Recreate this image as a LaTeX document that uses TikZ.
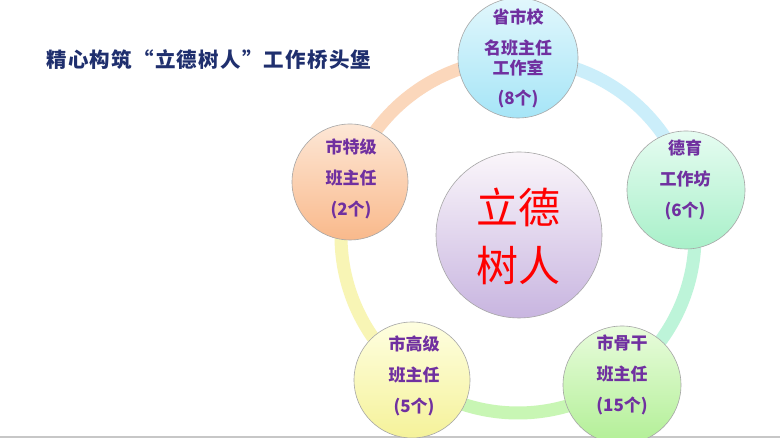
\documentclass[tikz,border=0pt]{standalone}
\usepackage{fontspec}
\usepackage{tikz}
\usetikzlibrary{positioning,calc}
\newfontfamily\cjk{Noto Sans CJK SC}
\newfontfamily\cjktitle[LetterSpace=6]{Noto Sans CJK SC}
\definecolor{Navy}{HTML}{1F2F6E}
\definecolor{Plum}{HTML}{7030A0}
\definecolor{Rim}{HTML}{A6A6A6}
\definecolor{RingPeach}{HTML}{FBD7BB}
\definecolor{RingBlue}{HTML}{CBEEFA}
\definecolor{RingMint}{HTML}{BDF4D9}
\definecolor{RingGreen}{HTML}{C8F6B4}
\definecolor{RingYellow}{HTML}{F8F5B5}

\begin{document}
\begin{tikzpicture}[x=1pt,y=1pt,
  bubble/.style={circle,draw=Rim,line width=0.6pt,inner sep=0pt,shading=axis},
  bubbletext/.style={align=center,text=Plum,font=\cjk\bfseries\fontsize{17}{31}\selectfont}]
\useasboundingbox (0,0) rectangle (780,438);
\fill[white] (0,0) rectangle (780,438);
\draw[black!22,line width=1.5pt] (0,1) -- (780,1);
\node[anchor=west,text=Navy,font=\cjktitle\bfseries\fontsize{20.5}{24}\selectfont] (title) at (43,378) {精心构筑“立德树人”工作桥头堡};
% ring behind the bubbles
\coordinate (ring) at (518,202);
\foreach \a/\b/\c in {90/162/RingPeach,15/90/RingBlue,-55/15/RingMint,234/305/RingGreen,162/234/RingYellow} {\draw[\c,line width=13pt] ([shift={(\a:177)}]ring) arc[start angle=\a,end angle=\b,radius=177];}
% bubbles
\node[bubble,minimum size=166,top color=white!70!violet!12,bottom color={rgb,255:red,200;green,181;blue,224}] (hub) at (519,203) {};
\node[bubble,minimum size=120,top color={rgb,255:red,226;green,247;blue,252},bottom color={rgb,255:red,166;green,229;blue,247}] (school) at (518,380) {};
\node[bubble,minimum size=116,top color={rgb,255:red,253;green,231;blue,214},bottom color={rgb,255:red,249;green,185;blue,139}] (special) at (350,256) {};
\node[bubble,minimum size=118,top color={rgb,255:red,230;green,252;blue,241},bottom color={rgb,255:red,168;green,240;blue,201}] (moral) at (686,248) {};
\node[bubble,minimum size=116,top color={rgb,255:red,254;green,254;blue,224},bottom color={rgb,255:red,245;green,242;blue,154}] (senior) at (412,58) {};
\node[bubble,minimum size=118,top color={rgb,255:red,232;green,252;blue,220},bottom color={rgb,255:red,178;green,239;blue,150}] (backbone) at (622,53) {};
% texts
\node[align=center,text=red,font=\cjk\fontsize{42}{58}\selectfont] (hub-txt) at (518,202) {立德\\树人};
\node[bubbletext,font=\cjk\bfseries\fontsize{17}{20}\selectfont] (school-txt) at (518,380) {省市校\\[11pt]名班主任\\工作室\\[10pt](8个)};
\node[bubbletext] (special-txt) at (351,259) {市特级\\班主任\\(2个)};
\node[bubbletext] (moral-txt) at (685,258) {德育\\工作坊\\(6个)};
\node[bubbletext] (senior-txt) at (414,62) {市高级\\班主任\\(5个)};
\node[bubbletext] (backbone-txt) at (622,63) {市骨干\\班主任\\(15个)};
\end{tikzpicture}
\end{document}
